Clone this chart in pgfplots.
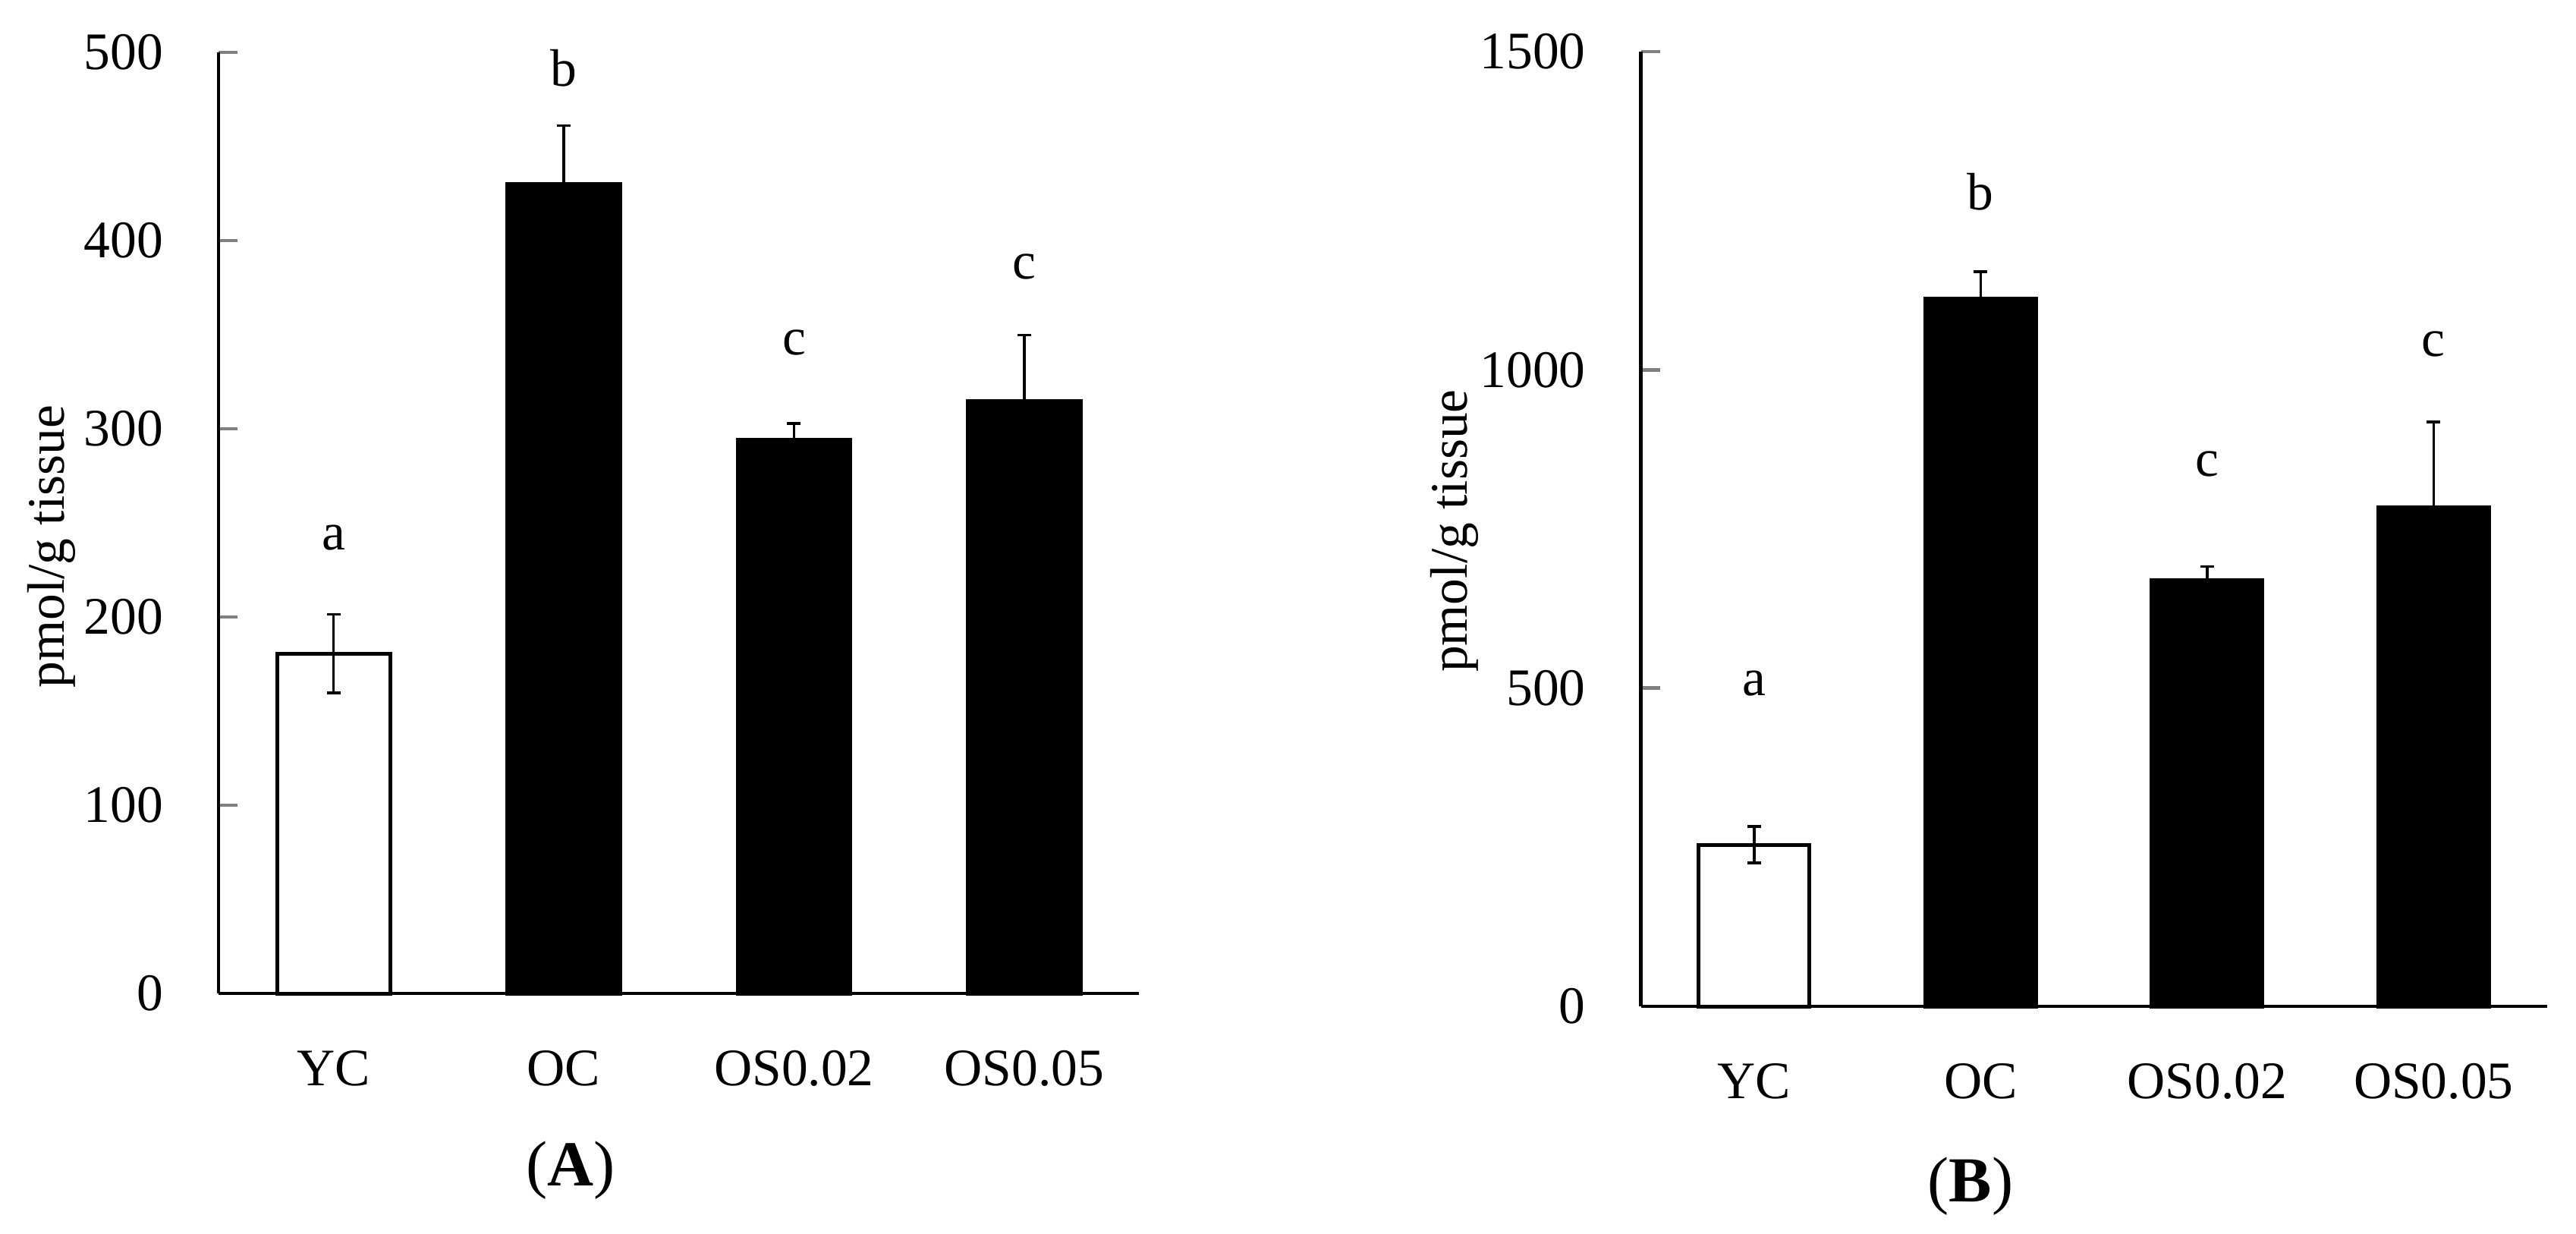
\documentclass[border=0pt]{standalone}
\usepackage{fontspec}
\setmainfont{Liberation Serif}
\usepackage{pgfplots}
\pgfplotsset{compat=1.18}

\newcommand{\lblfont}{\fontsize{13.9}{16}\selectfont}

\pgfplotsset{
  panel/.style={
    scale only axis, anchor=south west, clip=false,
    xmin=-0.5, xmax=3.5, ymin=0, enlargelimits=false,
    axis x line*=bottom, axis y line*=left,
    axis line style={line width=0.9pt},
    xtick={0,1,2,3}, xticklabels={YC,OC,OS0.02,OS0.05},
    xtick style={draw=none},
    ytick align=inside, ytick style={line width=0.9pt}, major tick length=5pt,
    tick label style={font=\lblfont, inner sep=0pt},
    xticklabel style={anchor=north, yshift=-14.8pt},
    yticklabel style={anchor=east, xshift=-14.4pt},
    /pgf/number format/assume math mode=true,
    /pgf/number format/1000 sep={},
    ylabel={pmol/g tissue},
    bar width=0.49,
  },
  whitebar/.style={ybar, bar shift=0pt, fill=white, draw=black, line width=1pt,
    error bars/.cd, y dir=both, y explicit,
    error bar style={line width=0.7pt, black},
    error mark options={rotate=90, line width=0.7pt, mark size=1.8pt, black}},
  blackbar/.style={ybar, bar shift=0pt, fill=black, draw=black, line width=1pt,
    error bars/.cd, y dir=both, y explicit,
    error bar style={line width=0.7pt, black},
    error mark options={rotate=90, line width=0.7pt, mark size=1.8pt, black}},
}

\begin{document}
\begin{tikzpicture}
\useasboundingbox (0,0) rectangle (679pt,-325pt);

% panel A
\begin{axis}[panel, at={(57.6pt,-261.8pt)}, width=242.7pt, height=248pt,
  ymax=500, ytick={0,100,200,300,400,500},
  every axis y label/.style={at={(axis description cs:-0.181,0.475)}, rotate=90, anchor=center, font=\lblfont}]
\addplot[whitebar] coordinates {(0,180.5) +- (0,20.9)};
\addplot[blackbar] coordinates {(1,430.1) +- (0,31.0) (2,294.2) +- (0,8.7) (3,314.6) +- (0,35.2)};
\node[font=\lblfont] at (axis cs:0,242) {a};
\node[font=\lblfont] at (axis cs:1,491.6) {b};
\node[font=\lblfont] at (axis cs:2,345.6) {c};
\node[font=\lblfont] at (axis cs:3,386.2) {c};
\end{axis}

% panel B
\begin{axis}[panel, at={(432.5pt,-265.2pt)}, width=238.8pt, height=251.6pt,
  ymax=1500, ytick={0,500,1000,1500},
  every axis y label/.style={at={(axis description cs:-0.206,0.498)}, rotate=90, anchor=center, font=\lblfont}]
\addplot[whitebar] coordinates {(0,254) +- (0,28.5)};
\addplot[blackbar] coordinates {(1,1112.4) +- (0,42) (2,669) +- (0,22) (3,784.1) +- (0,133.8)};
\node[font=\lblfont] at (axis cs:0,507.8) {a};
\node[font=\lblfont] at (axis cs:1,1279.6) {b};
\node[font=\lblfont] at (axis cs:2,852.2) {c};
\node[font=\lblfont] at (axis cs:3,1040.5) {c};
\end{axis}

\node[font=\fontsize{16.9}{20}\selectfont] at (150.4pt,-308.4pt) {(\textbf{A})};
\node[font=\fontsize{16.9}{20}\selectfont] at (519.4pt,-312.6pt) {(\textbf{B})};
\end{tikzpicture}
\end{document}
